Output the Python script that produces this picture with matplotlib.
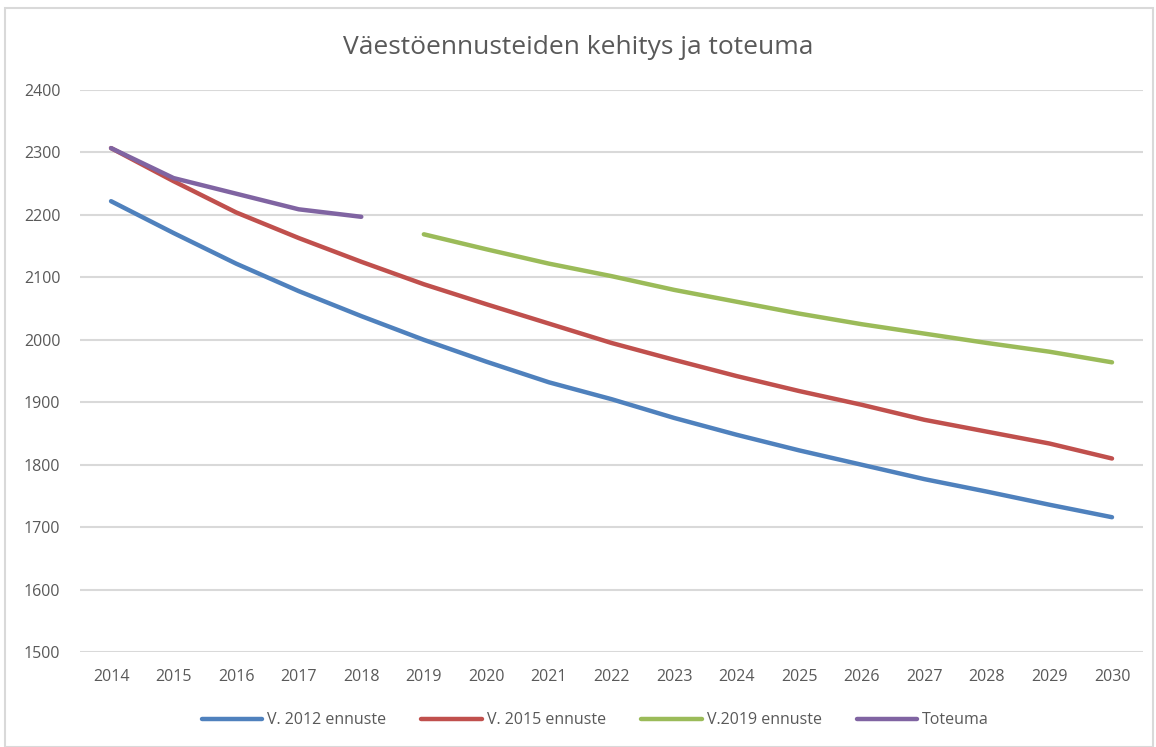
import matplotlib.pyplot as plt
from matplotlib.patches import Rectangle

vuodet = list(range(2014, 2031))
v2012 = [2222, 2171, 2122, 2078, 2038, 2000, 1965, 1932, 1905, 1875, 1848, 1823, 1800, 1777, 1757, 1736, 1716]
v2015 = [2307, 2254, 2204, 2163, 2125, 2089, 2057, 2026, 1995, 1968, 1942, 1918, 1896, 1872, 1853, 1834, 1810]
v2019_vuodet = list(range(2019, 2031))
v2019 = [2169, 2145, 2122, 2102, 2080, 2061, 2042, 2025, 2010, 1995, 1981, 1964]
toteuma_vuodet = [2014, 2015, 2016, 2017, 2018]
toteuma = [2307, 2259, 2234, 2209, 2197]

plt.rcParams['font.family'] = ['Open Sans', 'DejaVu Sans']

fig = plt.figure(figsize=(11.56, 7.47), dpi=100)
fig.patches.append(Rectangle((0.004, 0.0), 0.993, 0.989, transform=fig.transFigure,
                             fill=False, edgecolor='#d9d9d9', linewidth=1.5))
ax = fig.add_axes([0.069, 0.127, 0.92, 0.7525])

lw = 3.2
ax.plot(vuodet, v2012, color='#4f81bd', linewidth=lw, label='V. 2012 ennuste', solid_capstyle='round')
ax.plot(vuodet, v2015, color='#c0504d', linewidth=lw, label='V. 2015 ennuste', solid_capstyle='round')
ax.plot(v2019_vuodet, v2019, color='#9bbb59', linewidth=lw, label='V.2019 ennuste', solid_capstyle='round')
ax.plot(toteuma_vuodet, toteuma, color='#8064a2', linewidth=lw, label='Toteuma', solid_capstyle='round')

ax.set_xlim(2013.5, 2030.5)
ax.set_ylim(1500, 2400)
ax.set_xticks(vuodet)
ax.set_yticks(range(1500, 2401, 100))
ax.grid(axis='y', color='#d9d9d9', linewidth=1.5)
ax.set_axisbelow(True)
for s in ax.spines.values():
    s.set_visible(False)
ax.tick_params(length=0, labelsize=11.5, labelcolor='#595959', pad=12)
ax.tick_params(axis='y', pad=14)

fig.text(0.5, 0.937, 'Väestöennusteiden kehitys ja toteuma', ha='center', va='center',
         fontsize=19, color='#595959')

fig.legend(loc='center', bbox_to_anchor=(0.515, 0.036), ncol=4, frameon=False,
           fontsize=11.5, labelcolor='#595959', handlelength=3.8, columnspacing=2.2, handletextpad=0.3)

fig.savefig('out.png', dpi=100)
